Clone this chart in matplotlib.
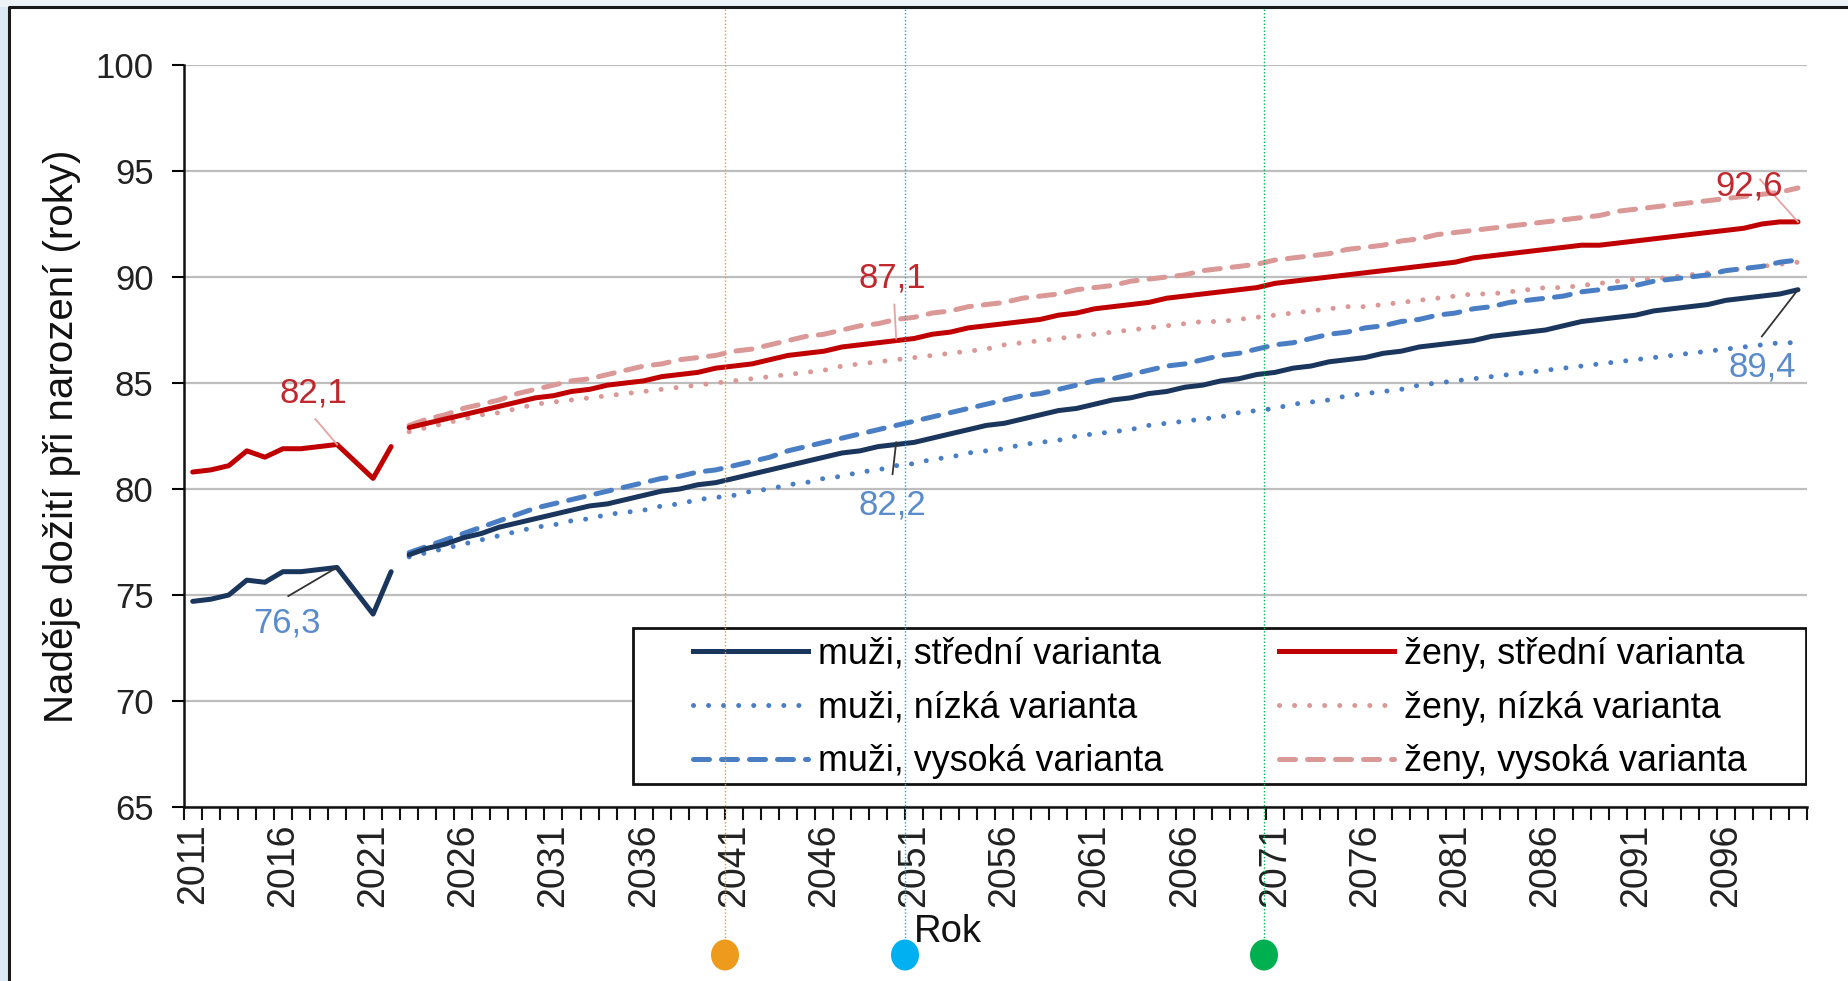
import numpy as np
import matplotlib
matplotlib.use('Agg')
import matplotlib.pyplot as plt
from matplotlib.lines import Line2D
from matplotlib.patches import Ellipse, Rectangle

plt.rcParams['font.family'] = ['Liberation Sans', 'DejaVu Sans']

# ---------------- data ----------------
hist_years = list(range(2011, 2023))
men_hist = [74.7, 74.8, 75.0, 75.7, 75.6, 76.1, 76.1, 76.2, 76.3, 75.2, 74.1, 76.1]
women_hist = [80.8, 80.9, 81.1, 81.8, 81.5, 81.9, 81.9, 82.0, 82.1, 81.3, 80.5, 82.0]

proj_years = list(range(2023, 2101))
men_mid = [76.9, 77.2, 77.4, 77.7, 77.9, 78.2, 78.4, 78.6, 78.8, 79.0,
           79.2, 79.3, 79.5, 79.7, 79.9, 80.0, 80.2, 80.3, 80.5, 80.7,
           80.9, 81.1, 81.3, 81.5, 81.7, 81.8, 82.0, 82.1, 82.2, 82.4,
           82.6, 82.8, 83.0, 83.1, 83.3, 83.5, 83.7, 83.8, 84.0, 84.2,
           84.3, 84.5, 84.6, 84.8, 84.9, 85.1, 85.2, 85.4, 85.5, 85.7,
           85.8, 86.0, 86.1, 86.2, 86.4, 86.5, 86.7, 86.8, 86.9, 87.0,
           87.2, 87.3, 87.4, 87.5, 87.7, 87.9, 88.0, 88.1, 88.2, 88.4,
           88.5, 88.6, 88.7, 88.9, 89.0, 89.1, 89.2, 89.4]
men_low = [76.8, 77.0, 77.2, 77.4, 77.6, 77.8, 78.0, 78.2, 78.3, 78.5,
           78.6, 78.8, 78.9, 79.0, 79.2, 79.3, 79.5, 79.6, 79.7, 79.9,
           80.0, 80.2, 80.3, 80.5, 80.6, 80.8, 80.9, 81.1, 81.2, 81.4,
           81.5, 81.7, 81.8, 81.9, 82.1, 82.2, 82.3, 82.5, 82.6, 82.7,
           82.8, 83.0, 83.1, 83.2, 83.3, 83.4, 83.6, 83.7, 83.8, 84.0,
           84.1, 84.2, 84.4, 84.5, 84.6, 84.7, 84.9, 85.0, 85.1, 85.2,
           85.3, 85.4, 85.5, 85.6, 85.7, 85.8, 85.9, 86.0, 86.1, 86.2,
           86.3, 86.4, 86.5, 86.6, 86.7, 86.8, 86.9, 86.9]
men_high = [77.0, 77.3, 77.6, 77.9, 78.2, 78.5, 78.8, 79.1, 79.3, 79.5,
            79.7, 79.9, 80.1, 80.3, 80.5, 80.6, 80.8, 80.9, 81.1, 81.3,
            81.5, 81.8, 82.0, 82.2, 82.4, 82.6, 82.8, 83.0, 83.2, 83.4,
            83.6, 83.8, 84.0, 84.2, 84.4, 84.5, 84.7, 84.9, 85.1, 85.2,
            85.4, 85.6, 85.8, 85.9, 86.1, 86.3, 86.4, 86.6, 86.8, 86.9,
            87.1, 87.3, 87.4, 87.6, 87.7, 87.9, 88.0, 88.2, 88.3, 88.5,
            88.6, 88.8, 88.9, 89.0, 89.1, 89.3, 89.4, 89.5, 89.6, 89.8,
            89.9, 90.0, 90.1, 90.3, 90.4, 90.5, 90.7, 90.8]
women_mid = [82.9, 83.1, 83.3, 83.5, 83.7, 83.9, 84.1, 84.3, 84.4, 84.6,
             84.7, 84.9, 85.0, 85.1, 85.3, 85.4, 85.5, 85.7, 85.8, 85.9,
             86.1, 86.3, 86.4, 86.5, 86.7, 86.8, 86.9, 87.0, 87.1, 87.3,
             87.4, 87.6, 87.7, 87.8, 87.9, 88.0, 88.2, 88.3, 88.5, 88.6,
             88.7, 88.8, 89.0, 89.1, 89.2, 89.3, 89.4, 89.5, 89.7, 89.8,
             89.9, 90.0, 90.1, 90.2, 90.3, 90.4, 90.5, 90.6, 90.7, 90.9,
             91.0, 91.1, 91.2, 91.3, 91.4, 91.5, 91.5, 91.6, 91.7, 91.8,
             91.9, 92.0, 92.1, 92.2, 92.3, 92.5, 92.6, 92.6]
women_low = [82.7, 82.9, 83.1, 83.3, 83.5, 83.6, 83.8, 84.0, 84.1, 84.2,
             84.3, 84.4, 84.5, 84.6, 84.7, 84.8, 84.9, 85.0, 85.1, 85.2,
             85.3, 85.4, 85.5, 85.6, 85.8, 85.9, 86.0, 86.1, 86.2, 86.3,
             86.4, 86.5, 86.6, 86.8, 86.9, 87.0, 87.1, 87.2, 87.3, 87.4,
             87.5, 87.6, 87.7, 87.8, 87.9, 87.9, 88.0, 88.1, 88.2, 88.3,
             88.4, 88.5, 88.6, 88.6, 88.7, 88.8, 88.9, 89.0, 89.1, 89.2,
             89.2, 89.3, 89.4, 89.5, 89.5, 89.6, 89.7, 89.8, 89.9, 89.9,
             90.0, 90.1, 90.2, 90.3, 90.4, 90.5, 90.6, 90.7]
women_high = [83.0, 83.3, 83.5, 83.8, 84.0, 84.2, 84.5, 84.7, 84.9, 85.1,
              85.2, 85.4, 85.6, 85.8, 85.9, 86.1, 86.2, 86.3, 86.5, 86.6,
              86.8, 87.0, 87.2, 87.3, 87.5, 87.7, 87.8, 88.0, 88.1, 88.3,
              88.4, 88.6, 88.7, 88.8, 89.0, 89.1, 89.2, 89.4, 89.5, 89.6,
              89.8, 89.9, 90.0, 90.1, 90.3, 90.4, 90.5, 90.6, 90.8, 90.9,
              91.0, 91.1, 91.3, 91.4, 91.5, 91.7, 91.8, 92.0, 92.1, 92.2,
              92.3, 92.4, 92.5, 92.6, 92.7, 92.8, 92.9, 93.1, 93.2, 93.3,
              93.4, 93.5, 93.6, 93.7, 93.8, 93.9, 94.0, 94.2]

legend_labels = ['muži, střední varianta', 'muži, nízká varianta', 'muži, vysoká varianta',
                 'ženy, střední varianta', 'ženy, nízká varianta', 'ženy, vysoká varianta']
y_ticks = [65, 70, 75, 80, 85, 90, 95, 100]
x_label_years = list(range(2011, 2101, 5))

# ---------------- style ----------------
MEN_MID = '#1B365D'
WOMEN_MID = '#C00000'
MEN_VAR = '#4A7EC4'
WOMEN_VAR = '#DA9896'
TXT_RED = '#C0282E'
TXT_BLUE = '#5A8CCB'
FS = 25

W, H = 1849, 981
fig = plt.figure(figsize=(W / 100, H / 100), dpi=100)
fig.patch.set_facecolor('white')

# slide-like frame
fig.add_artist(Rectangle((0, 0), 9 / W, 1, transform=fig.transFigure,
                         facecolor='#DCE8F3', edgecolor='none', zorder=0))
fig.add_artist(Rectangle((0, 1 - 7 / H), 1, 7 / H, transform=fig.transFigure,
                         facecolor='#EEF3F8', edgecolor='none', zorder=0))
fig.add_artist(Line2D([9 / W, 9 / W, 1], [0, 1 - 7 / H, 1 - 7 / H], transform=fig.transFigure,
                      color='#1a1a1a', lw=2.2, zorder=1))

L, R, T, B = 183.7, 1807, 65, 807
ax = fig.add_axes([L / W, 1 - B / H, (R - L) / W, (B - T) / H])
ax.set_xlim(2010.5, 2100.5)
ax.set_ylim(65, 100)

for s in ['top', 'right']:
    ax.spines[s].set_visible(False)
for s in ['left', 'bottom']:
    ax.spines[s].set_linewidth(1.8)
    ax.spines[s].set_color('#111111')

ax.set_yticks(y_ticks)
ax.set_yticklabels([str(v) for v in y_ticks])
ax.tick_params(axis='y', length=8.6, width=1.5, pad=13, labelsize=FS, labelcolor='#222222')
ax.yaxis.grid(True, color='#BEBEBE', lw=1.6)
ax.set_axisbelow(True)

ax.set_xticks(x_label_years)
ax.set_xticklabels([str(y) for y in x_label_years], rotation=90, va='top', ha='center')
ax.tick_params(axis='x', which='major', length=0, pad=12, labelsize=27, labelcolor='#222222')
ax.set_xticks(np.arange(2010.5, 2101, 1), minor=True)
ax.tick_params(axis='x', which='minor', length=9.4, width=1.5, color='#111111')

ax.set_ylabel('Naděje dožití při narození (roky)', fontsize=29, color='#111111')
ax.yaxis.set_label_coords(-0.0635, 0.5)
ax.set_xlabel('Rok', fontsize=27.5, color='#111111')
ax.xaxis.set_label_coords((948 - L) / (R - L), (B - 914) / (B - T))

LW = 3.6
dash = dict(linestyle=(0, (3.2, 2.4)), dash_capstyle='round', lw=LW)
dot = dict(linestyle=(0, (0.01, 3.0)), dash_capstyle='round', lw=3.6)

ax.plot(proj_years, women_low, color=WOMEN_VAR, zorder=3, **dot)
ax.plot(proj_years, women_high, color=WOMEN_VAR, zorder=3, **dash)
ax.plot(proj_years, men_low, color=MEN_VAR, zorder=3, **dot)
ax.plot(proj_years, men_high, color=MEN_VAR, zorder=3, **dash)
ax.plot(proj_years, women_mid, color=WOMEN_MID, lw=LW, zorder=4, solid_capstyle='round')
ax.plot(proj_years, men_mid, color=MEN_MID, lw=LW, zorder=4, solid_capstyle='round')
ax.plot(hist_years, women_hist, color=WOMEN_MID, lw=LW, zorder=4, solid_capstyle='round')
ax.plot(hist_years, men_hist, color=MEN_MID, lw=LW, zorder=4, solid_capstyle='round')


def val(years, series, y):
    return series[years.index(y)]


# annotations: (text, text position, leader start, leader end at data point, colours)
notes = [
    ('82,1', (2017.7, 84.55), (2017.8, 83.3), (2019, val(hist_years, women_hist, 2019)), TXT_RED, '#E7A3A3'),
    ('76,3', (2016.2, 73.7), (2016.3, 74.95), (2019, val(hist_years, men_hist, 2019)), TXT_BLUE, '#333333'),
    ('87,1', (2049.8, 89.95), (2049.9, 88.7), (2050.0, val(proj_years, women_mid, 2051)), TXT_RED, '#E7A3A3'),
    ('82,2', (2049.8, 79.25), (2049.8, 80.7), (2050.0, val(proj_years, men_mid, 2051)), TXT_BLUE, '#333333'),
    ('92,6', (2097.3, 94.3), (2097.9, 94.6), (2100, val(proj_years, women_mid, 2100)), TXT_RED, '#E7A3A3'),
    ('89,4', (2098.0, 85.75), (2098.0, 87.2), (2100, val(proj_years, men_mid, 2100)), TXT_BLUE, '#333333'),
]
for txt, tpos, lstart, pt, tc, lc in notes:
    ax.plot([lstart[0], pt[0]], [lstart[1], pt[1]], color=lc, lw=1.3, zorder=5)
    ax.text(tpos[0], tpos[1], txt, color=tc, fontsize=FS, ha='center', va='center', zorder=6)

# legend frame and two legend columns
ax.add_patch(Rectangle((0.277, 0.031), 0.7224, 0.21, transform=ax.transAxes,
                       facecolor='white', edgecolor='#111111', lw=2.0, zorder=7))
h_men = [Line2D([], [], color=MEN_MID, lw=LW),
         Line2D([], [], color=MEN_VAR, **dot),
         Line2D([], [], color=MEN_VAR, **dash)]
h_women = [Line2D([], [], color=WOMEN_MID, lw=LW),
           Line2D([], [], color=WOMEN_VAR, **dot),
           Line2D([], [], color=WOMEN_VAR, **dash)]
common = dict(frameon=False, fontsize=25.8, handlelength=3.2, handletextpad=0.3,
              borderpad=0, borderaxespad=0, labelspacing=0.52, loc='center left')
yc = (B - 708) / (B - T)
leg1 = ax.legend(h_men, legend_labels[:3], bbox_to_anchor=((693 - L) / (R - L), yc), **common)
leg1.set_zorder(8)
ax.add_artist(leg1)
leg2 = ax.legend(h_women, legend_labels[3:], bbox_to_anchor=((1279 - L) / (R - L), yc), **common)
leg2.set_zorder(8)

# coloured vertical markers
mk_cols = ['#EE9A1C', '#00B0F0', '#00B050']
mk_x = [725, 905, 1264]
for c, x in zip(mk_cols, mk_x):
    fig.add_artist(Line2D([x / W, x / W], [1 - 955 / H, 1 - 8 / H], transform=fig.transFigure,
                          color=c, lw=1.0, linestyle=(0, (1, 1.5)), zorder=20))
    fig.add_artist(Ellipse((x / W, 1 - 955 / H), 28 / W, 31 / H, transform=fig.transFigure,
                           facecolor=c, edgecolor='none', zorder=21))

fig.savefig('out.png', dpi=100)
